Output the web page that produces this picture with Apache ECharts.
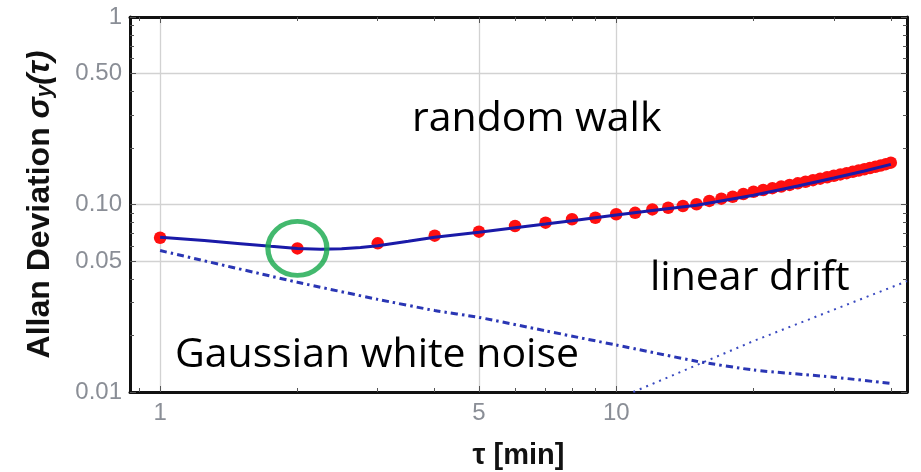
<!DOCTYPE html>
<html><head><meta charset="utf-8">
<script src="https://cdn.jsdelivr.net/npm/echarts@6/dist/echarts.min.js"></script>
<style>html,body{margin:0;padding:0;background:#fff}#c{width:921px;height:472px}</style>
</head><body><div id="c"></div>
<script>
// ---- data ----
const tau = [1,2,3,4,5,6,7,8,9,10,11,12,13,14,15,16,17,18,19,20,21,22,23,24,25,26,27,28,29,30,31,32,33,34,35,36,37,38,39,40];
const adev = [0.0665,0.0583,0.0621,0.0682,0.0716,0.0768,0.0800,0.0834,0.0850,0.0887,0.0903,0.0941,0.0961,0.0982,0.1003,0.1045,0.1074,0.1100,0.1138,0.1170,0.1195,0.1222,0.1248,0.1272,0.1297,0.1322,0.1348,0.1373,0.1398,0.1424,0.1447,0.1470,0.1494,0.1518,0.1542,0.1566,0.1590,0.1614,0.1641,0.1671];
const fitTau = [1,1.25,1.5,1.75,2,2.25,2.5,2.75,3,3.5,4,5,6,7,8,10,12,15,20,25,30,35,40];
const fitAdev = [0.0668,0.0642,0.0618,0.0598,0.0583,0.0578,0.0581,0.0590,0.0603,0.0636,0.0668,0.0712,0.0752,0.0786,0.0818,0.0878,0.0928,0.0992,0.1120,0.1255,0.1385,0.1510,0.1637];
const noiseTau = [1,2,3,4,5,7,10,15,20,30,40];
const noiseAdev = [0.0568,0.0385,0.0312,0.0272,0.0250,0.0212,0.0178,0.0146,0.0131,0.0120,0.0111];
const driftTau = [10.9,20,43.4];
const driftAdev = [0.0100,0.0187,0.0390];
const circledIndex = 1; // the point at tau = 2
const xMajorTicks = [1,5,10];
const xTickLabels = ['1','5','10'];
const xMinorTicks = [0.9,2,3,4,6,7,8,9,20,30,40];
const yMajorTicks = [0.01,0.05,0.1,0.5,1];
const yTickLabels = ['0.01','0.05','0.10','0.50','1'];
const yMinorTicks = [0.02,0.03,0.04,0.06,0.07,0.08,0.09,0.2,0.3,0.4,0.6,0.7,0.8,0.9];
const annotations = [
  {text:'random walk', x:412, y:119},
  {text:'linear drift', x:650, y:278},
  {text:'Gaussian white noise', x:175, y:355}
];

// ---- chart ----
const X_MIN = 0.859, X_MAX = 43.4, Y_MIN = 0.01, Y_MAX = 1;
const LABEL_COLOR = '#8a8e96';
const FONT = 'Liberation Sans';
function labelFor(v, ticks, labels){
  let best = 0, bd = Infinity;
  ticks.forEach((t,i)=>{const d=Math.abs(Math.log(t)-Math.log(v)); if(d<bd){bd=d;best=i;}});
  return labels[best];
}
function axis(kind, pos, ticks, len, opts){
  const isX = kind === 'x';
  return Object.assign({
    type:'log', logBase:10,
    min: isX ? X_MIN : Y_MIN, max: isX ? X_MAX : Y_MAX,
    position: pos,
    axisLine:{show:false, onZero:false},
    axisTick:{show:true, inside:true, length:len, customValues:ticks, lineStyle:{color:'#555', width:1}},
    axisLabel:{show:false},
    splitLine:{show:false},
    minorTick:{show:false}, minorSplitLine:{show:false}
  }, opts||{});
}
const frameLine = {show:true, onZero:false, lineStyle:{color:'#111', width:3}};

const option = {
  animation:false,
  backgroundColor:'#fff',
  grid:{left:130, right:14, top:17, bottom:80, containLabel:false, outerBoundsMode:'none'},
  xAxis:[
    axis('x','bottom',xMajorTicks,6,{
      axisLine:frameLine,
      axisLabel:{show:true, customValues:xMajorTicks, formatter:v=>labelFor(v,xMajorTicks,xTickLabels),
        color:LABEL_COLOR, fontFamily:FONT, fontSize:24, margin:9},
      splitLine:{show:true, lineStyle:{color:'#d2d2d2', width:1.3}},
      name:'τ [min]', nameLocation:'middle', nameGap:49,
      nameTextStyle:{fontFamily:FONT, fontWeight:'bold', fontSize:29, color:'#111'}
    }),
    axis('x','bottom',xMinorTicks,4),
    axis('x','top',xMajorTicks,6,{axisLine:frameLine}),
    axis('x','top',xMinorTicks,4)
  ],
  yAxis:[
    axis('y','left',yMajorTicks,6,{
      axisLine:frameLine,
      axisLabel:{show:true, customValues:yMajorTicks, formatter:v=>labelFor(v,yMajorTicks,yTickLabels),
        color:LABEL_COLOR, fontFamily:FONT, fontSize:24, margin:8},
      splitLine:{show:true, lineStyle:{color:'#d2d2d2', width:1.3}},
      name:'Allan Deviation {i|σ}{s|y}{i|(τ)}', nameLocation:'middle', nameGap:74, nameRotate:90,
      nameTextStyle:{fontFamily:FONT, fontWeight:'bold', fontSize:32, color:'#111',
        rich:{i:{fontFamily:FONT, fontWeight:'bold', fontStyle:'italic', fontSize:32, color:'#111'},
              s:{fontFamily:FONT, fontWeight:'bold', fontStyle:'italic', fontSize:22, color:'#111', verticalAlign:'bottom'}}}
    }),
    axis('y','left',yMinorTicks,4),
    axis('y','right',yMajorTicks,6,{axisLine:frameLine}),
    axis('y','right',yMinorTicks,4)
  ],
  series:[
    {type:'line', name:'drift', data:driftTau.map((t,i)=>[t,driftAdev[i]]), showSymbol:false, symbol:'none',
     lineStyle:{color:'#3a4ac0', width:2, type:[2,5]}, z:2, silent:true},
    {type:'line', name:'noise', data:noiseTau.map((t,i)=>[t,noiseAdev[i]]), smooth:0.2, showSymbol:false, symbol:'none',
     lineStyle:{color:'#2a36b4', width:3, type:[7,4,2.5,4]}, z:2, silent:true},
    {type:'scatter', name:'data', data:tau.map((t,i)=>[t,adev[i]]), symbol:'circle', symbolSize:12.5,
     itemStyle:{color:'#ff1010', opacity:1}, z:3},
    {type:'line', name:'fit', data:fitTau.map((t,i)=>[t,fitAdev[i]]), smooth:false, showSymbol:false, symbol:'none',
     lineStyle:{color:'#1a1aa8', width:3}, z:4},
    {type:'scatter', name:'circle', data:[[tau[circledIndex], adev[circledIndex]]], symbol:'circle', symbolSize:[59,54],
     itemStyle:{color:'rgba(0,0,0,0)', borderColor:'#14a84a', borderWidth:5}, z:5}
  ],
  graphic: annotations.map(a=>({type:'text', x:a.x, y:a.y, z:10, silent:true,
    style:{text:a.text, font:'41px "Open Sans"', fill:'#000', align:'left', verticalAlign:'middle'}}))
};
const chart = echarts.init(document.getElementById('c'), null, {renderer:'canvas'});
chart.setOption(option);
</script></body></html>
